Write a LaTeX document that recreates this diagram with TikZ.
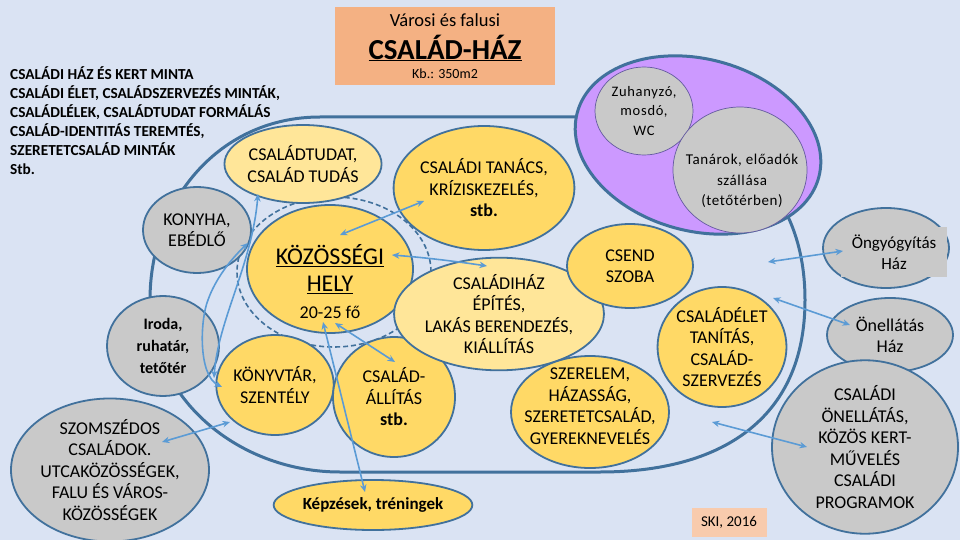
\documentclass[tikz,border=0pt]{standalone}
\usepackage{fontspec}
\setmainfont{Carlito}
\usetikzlibrary{shapes.geometric,arrows.meta}
\definecolor{bgc}{RGB}{218,227,243}
\definecolor{outl}{RGB}{65,113,156}
\definecolor{yel}{RGB}{255,217,102}
\definecolor{lyel}{RGB}{255,230,153}
\definecolor{grayf}{RGB}{201,201,201}
\definecolor{purp}{RGB}{204,153,255}
\definecolor{arrc}{RGB}{91,155,213}
\definecolor{titlec}{RGB}{244,177,131}
\definecolor{skic}{RGB}{248,203,173}
\definecolor{thinc}{RGB}{100,90,160}
\newcommand\fbody{\fontsize{18}{21.5}\selectfont}
\newcommand\fsmall{\fontsize{14.5}{19.5}\selectfont}
\tikzset{
  ell/.style={ellipse, draw=outl, line width=1.8pt, inner sep=0pt, align=center, font=\fbody},
  yell/.style={ell, fill=yel},
  lell/.style={ell, fill=lyel},
  gell/.style={ell, fill=grayf},
  inell/.style={ellipse, draw=thinc, line width=0.7pt, fill=grayf, inner sep=0pt, align=center, font=\fsmall},
  txt/.style={inner sep=0pt, align=center, font=\fbody},
  arr/.style={draw=arrc, line width=1.6pt, {Stealth[length=7.5pt,width=6.5pt]}-{Stealth[length=7.5pt,width=6.5pt]}},
}
\begin{document}
\begin{tikzpicture}[x=1pt,y=-1pt]
\fill[bgc] (0,0) rectangle (960,540);
\useasboundingbox (0,0) rectangle (960,540);

% title
\node[fill=titlec, minimum width=220pt, minimum height=78pt, inner sep=0pt] (title) at (445,46) {};
\node[txt, font=\fontsize{18.5}{20}\selectfont] (title1) at (445,20) {Városi és falusi};
\node[txt, font=\bfseries\fontsize{29}{32}\selectfont] (title2) at (445,48) {\underline{CSALÁD-HÁZ}};
\node[txt, font=\fontsize{14}{16}\selectfont] (title3) at (445,74) {Kb.: 350m2};

% top-left text
\node[anchor=north west, inner sep=0pt, align=left, font=\bfseries\fontsize{15.3}{19}\selectfont] (lefttext) at (10,66)
{CSALÁDI HÁZ ÉS KERT MINTA\\
CSALÁDI ÉLET, CSALÁDSZERVEZÉS MINTÁK,\\
CSALÁDLÉLEK, CSALÁDTUDAT FORMÁLÁS\\
CSALÁD-IDENTITÁS TEREMTÉS,\\
SZERETETCSALÁD MINTÁK\\
Stb.};

% big house outline
\draw[outl, line width=3pt] (320,117) -- (600,117)
  .. controls (720,117) and (805,180) .. (805,300)
  .. controls (805,420) and (720,472) .. (600,472) -- (340,472)
  .. controls (240,472) and (150,400) .. (150,300)
  .. controls (150,200) and (220,117) .. (320,117) -- cycle;

% dashed circle around community place
\node[ellipse, draw=outl, line width=1.6pt, dash pattern=on 5pt off 3pt, minimum width=194pt, minimum height=150pt, inner sep=0pt] (dashring) at (334,272) {};

% purple wing
\node[ellipse, fill=purp, draw=outl, line width=3pt, minimum width=250pt, minimum height=172pt, rotate=-15] (wing) at (698,145) {};
\node[inell, minimum width=98pt, minimum height=88pt] (zuhany) at (644,111) {\addfontfeatures{LetterSpace=5}Zuhanyzó,\\\addfontfeatures{LetterSpace=5}mosdó,\\\addfontfeatures{LetterSpace=5}WC};
\node[inell, minimum width=134pt, minimum height=126pt] (tanarok) at (740,170) {};
\node[txt, font=\fontsize{15}{20.5}\selectfont] (tanarokt) at (742,181) {\addfontfeatures{LetterSpace=4}Tanárok, előadók\\\addfontfeatures{LetterSpace=4}szállása\\\addfontfeatures{LetterSpace=4}(tetőtérben)};

% inner ellipses
\node[lell, minimum width=130pt, minimum height=78pt] (tudat) at (303,164) {CSALÁDTUDAT,\\CSALÁD TUDÁS};
\node[yell, minimum width=178pt, minimum height=124pt] (tanacs) at (484,188) {CSALÁDI TANÁCS,\\KRÍZISKEZELÉS,\\\textbf{stb.}};
\node[gell, minimum width=108pt, minimum height=86pt] (konyha) at (197,230) {KONYHA,\\EBÉDLŐ};
\node[gell, minimum width=112pt, minimum height=100pt, font=\bfseries\fontsize{16}{22}\selectfont] (iroda) at (163,346) {Iroda,\\ruhatár,\\tetőtér};
\node[gell, minimum width=198pt, minimum height=136pt] (szomszed) at (110,470) {SZOMSZÉDOS\\CSALÁDOK.\\UTCAKÖZÖSSÉGEK,\\FALU ÉS VÁROS-\\KÖZÖSSÉGEK};
\node[yell, minimum width=166pt, minimum height=128pt] (kozos) at (330,269) {};
\node[txt, font=\fontsize{24}{28}\selectfont] (kozos1) at (330,256) {\underline{KÖZÖSSÉGI}};
\node[txt, font=\fontsize{24}{28}\selectfont] (kozos2) at (330,285) {\underline{HELY}};
\node[txt] (kozos3) at (330,312) {20-25 fő};
\node[yell, minimum width=104pt, minimum height=100pt] (konyv) at (275,385) {KÖNYVTÁR,\\SZENTÉLY};
\node[yell, minimum width=122pt, minimum height=120pt] (allitas) at (394,397) {CSALÁD-\\ÁLLÍTÁS\\\textbf{stb.}};
\node[yell, minimum width=198pt, minimum height=50pt, font=\bfseries\fontsize{17}{20}\selectfont] (kepzes) at (373,505) {Képzések, tréningek};
\node[lell, minimum width=156pt, minimum height=112pt] (hazepites) at (499,314) {CSALÁDIHÁZ\\ÉPÍTÉS,\\LAKÁS BERENDEZÉS,\\KIÁLLÍTÁS};
\node[yell, minimum width=126pt, minimum height=84pt] (csend) at (630,266) {CSEND\\SZOBA};
\node[yell, minimum width=126pt, minimum height=120pt] (csaladelet) at (722,347) {CSALÁDÉLET\\TANÍTÁS,\\CSALÁD-\\SZERVEZÉS};
\node[yell, minimum width=158pt, minimum height=112pt] (szerelem) at (590,412) {};
\node[txt] (szerelemt) at (590,406) {SZERELEM,\\HÁZASSÁG,\\SZERETETCSALÁD,\\GYEREKNEVELÉS};

% outside houses
\node[gell, minimum width=126pt, minimum height=80pt] (ongy) at (886,248) {};
\node[fill=grayf, minimum width=106pt, minimum height=50pt, inner sep=0pt, txt, font=\fontsize{17}{21.5}\selectfont] (ongyt) at (894,252) {Öngyógyítás\\Ház};
\node[gell, minimum width=126pt, minimum height=74pt] (onell) at (890,335) {Önellátás\\Ház};
\node[gell, minimum width=186pt, minimum height=142pt] (csonell) at (865,447) {CSALÁDI\\ÖNELLÁTÁS,\\KÖZÖS KERT-\\MŰVELÉS\\CSALÁDI\\PROGRAMOK};

% SKI box
\node[fill=skic, minimum width=75pt, minimum height=29pt, inner sep=0pt, font=\fontsize{15}{17}\selectfont] (ski) at (729,522) {SKI, 2016};

% connector end points
\coordinate (tanacsA) at (424,201);
\coordinate (kozosA) at (340,235);
\coordinate (kozosB) at (392,255);
\coordinate (hazB) at (487,266);
\coordinate (kozosC) at (335,323);
\coordinate (allitasC) at (395,362);
\coordinate (kozosD) at (323,322);
\coordinate (kepzesD) at (365,492);
\coordinate (szomszedE) at (162,442);
\coordinate (konyvE) at (230,422);
\coordinate (konyvF) at (222,387);
\coordinate (konyhaF) at (248,243);
\coordinate (irodaG) at (214,378);
\coordinate (tudatG) at (258,194);
\coordinate (ongyH) at (843,251);
\coordinate (insideH) at (768,262);
\coordinate (onellI) at (850,325);
\coordinate (insideI) at (773,298);
\coordinate (csonellJ) at (807,447);
\coordinate (insideJ) at (712,422);

% connectors
\draw[arr] (tanacsA) -- (kozosA);
\draw[arr] (kozosB) .. controls (430,258) and (460,262) .. (hazB);
\draw[arr] (kozosC) -- (allitasC);
\draw[arr] (kozosD) -- (kepzesD);
\draw[arr] (szomszedE) -- (konyvE);
\draw[arr] (konyvF) .. controls (198,375) and (200,320) .. (208,300) .. controls (215,280) and (230,260) .. (konyhaF);
\draw[arr] (irodaG) .. controls (218,320) and (252,265) .. (tudatG);
\draw[arr] (insideH) -- (ongyH);
\draw[arr] (insideI) -- (onellI);
\draw[arr] (insideJ) -- (csonellJ);
\end{tikzpicture}
\end{document}
